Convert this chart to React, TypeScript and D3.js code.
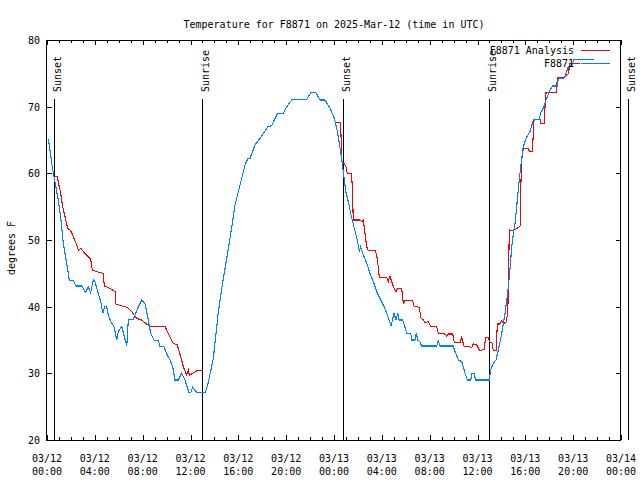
import React from "react";
import * as d3 from "d3";

// Observed station temperature (F8871): hours after 2025-03-12 00:00 UTC, °F
const obsHours = [0.11, 0.44, 0.59, 0.94, 1.17, 1.36, 1.65, 1.86, 2.2, 2.43, 2.9, 3.24, 3.45, 3.65, 3.87, 4.01, 4.29, 4.52, 4.66, 4.85, 4.99, 5.13, 5.33, 5.6, 5.83, 5.96, 6.25, 6.46, 6.67, 6.8, 7.22, 7.64, 7.92, 8.2, 8.39, 8.67, 8.95, 9.31, 9.45, 9.78, 10.01, 10.29, 10.51, 10.7, 10.98, 11.26, 11.54, 11.87, 12.02, 12.18, 12.52, 13.21, 13.44, 13.91, 14.33, 14.66, 15.03, 15.39, 15.72, 16.0, 16.28, 16.56, 16.78, 16.98, 17.39, 17.81, 18.09, 18.46, 18.79, 19.07, 19.29, 19.76, 20.05, 20.46, 20.74, 21.72, 22.08, 22.47, 22.83, 23.25, 23.67, 24.03, 24.23, 24.42, 24.64, 24.78, 24.98, 25.2, 25.42, 25.7, 25.95, 26.12, 26.23, 26.4, 26.74, 27.01, 27.29, 27.57, 27.9, 28.18, 28.41, 28.6, 28.77, 29.02, 29.19, 29.33, 29.44, 29.75, 29.88, 30.08, 30.42, 30.5, 30.77, 30.88, 31.0, 31.19, 31.33, 32.59, 32.72, 32.87, 33.98, 34.12, 34.4, 34.68, 34.81, 34.96, 35.15, 35.43, 35.54, 35.71, 35.85, 36.99, 37.1, 37.32, 37.55, 37.74, 38.03, 38.3, 38.49, 38.66, 38.78, 38.86, 39.0, 39.14, 39.41, 39.61, 39.83, 40.12, 40.39, 40.67, 41.17, 41.29, 41.56, 41.73, 42.06, 42.29, 42.67, 42.76, 43.23, 43.4, 43.6, 43.88, 44.07, 45.74];
const obsTemps = [65.15, 61.0, 59.5, 56.0, 53.0, 49.5, 46.5, 44.0, 43.9, 43.1, 43.1, 42.1, 43.0, 42.1, 44.0, 43.75, 42.0, 40.5, 39.0, 40.1, 40.0, 38.75, 37.75, 37.0, 35.0, 36.25, 37.0, 35.5, 34.1, 38.0, 38.1, 40.0, 41.0, 40.4, 38.75, 36.0, 35.0, 34.9, 34.0, 34.0, 32.9, 32.0, 31.0, 29.0, 29.0, 30.0, 29.0, 27.1, 27.1, 27.9, 27.1, 27.1, 28.25, 32.25, 39.25, 43.25, 47.25, 51.25, 55.25, 57.25, 59.25, 61.25, 62.15, 62.25, 64.25, 65.25, 66.0, 67.0, 67.15, 68.25, 69.0, 69.0, 70.0, 71.0, 71.1, 71.1, 72.15, 72.15, 71.0, 71.0, 69.75, 68.25, 66.75, 64.75, 62.25, 60.25, 57.25, 55.75, 53.75, 51.75, 50.0, 48.25, 49.0, 48.0, 46.5, 45.0, 43.75, 42.25, 41.0, 40.0, 39.0, 38.0, 37.1, 39.0, 38.0, 39.0, 38.0, 38.0, 37.25, 36.0, 36.0, 35.0, 35.0, 36.0, 35.0, 34.75, 34.1, 34.1, 34.9, 34.1, 34.1, 33.25, 32.0, 31.75, 31.0, 30.0, 29.0, 29.0, 30.0, 30.0, 29.0, 29.0, 30.5, 31.5, 32.0, 33.5, 36.0, 39.0, 41.5, 44.5, 47.0, 49.0, 51.0, 52.5, 57.5, 61.0, 64.0, 65.5, 66.25, 68.0, 68.1, 69.1, 70.0, 71.0, 72.5, 73.1, 73.1, 74.25, 74.25, 75.0, 76.0, 76.25, 77.1, 77.1];

// Analysis temperature (F8871 Analysis), two segments
const anaHours1 = [0.59, 0.86, 0.94, 1.15, 1.31, 1.51, 1.73, 1.98, 2.2, 2.43, 2.62, 2.82, 3.04, 3.32, 3.65, 3.79, 4.16, 4.71, 4.79, 5.27, 5.69, 5.77, 6.25, 6.72, 7.08, 7.5, 7.92, 8.34, 8.61, 9.87, 10.14, 10.56, 10.9, 11.18, 11.4, 11.68, 11.82, 11.9, 12.18, 12.52, 12.71, 12.99];
const anaTemps1 = [59.6, 59.5, 58.75, 57.0, 55.0, 53.5, 51.75, 51.4, 50.5, 49.5, 48.5, 48.75, 48.25, 47.75, 47.1, 45.5, 45.25, 45.0, 43.1, 42.75, 42.25, 40.4, 40.1, 39.9, 39.25, 38.25, 38.0, 37.4, 37.0, 37.0, 36.0, 34.5, 34.25, 32.5, 31.0, 29.75, 30.5, 29.75, 30.0, 30.35, 30.5, 30.4];
const anaHours2 = [24.08, 24.56, 24.64, 24.84, 25.0, 25.11, 25.48, 25.56, 25.61, 26.18, 26.32, 26.45, 26.59, 26.74, 26.87, 27.43, 27.57, 27.7, 27.79, 28.41, 28.54, 28.68, 28.83, 28.96, 29.19, 29.3, 29.66, 29.8, 29.94, 30.58, 30.69, 31.13, 31.28, 31.47, 31.61, 31.89, 32.11, 32.59, 32.72, 33.28, 33.43, 33.56, 33.93, 34.06, 34.54, 34.68, 34.87, 35.52, 35.65, 35.93, 36.15, 36.29, 36.44, 36.54, 36.69, 36.91, 36.99, 37.21, 37.32, 37.55, 37.66, 37.88, 38.03, 38.17, 38.37, 38.53, 38.58, 38.66, 38.94, 39.33, 39.56, 39.61, 39.7, 39.83, 40.25, 40.33, 40.58, 40.67, 40.73, 41.23, 41.31, 41.56, 41.65, 41.73, 42.62, 42.67, 43.23, 43.63, 43.68, 44.57];
const anaTemps2 = [67.6, 67.6, 61.75, 61.5, 61.0, 60.0, 59.9, 56.25, 53.0, 53.0, 52.75, 53.0, 51.0, 49.0, 48.4, 48.4, 47.75, 46.0, 44.4, 44.4, 43.75, 44.6, 43.75, 43.0, 42.25, 42.75, 42.75, 40.5, 40.9, 40.9, 40.1, 39.9, 38.25, 38.0, 37.6, 37.75, 37.0, 37.0, 36.0, 35.9, 35.6, 35.9, 35.9, 34.6, 34.6, 35.4, 34.1, 33.9, 34.4, 34.25, 33.5, 33.4, 33.6, 33.5, 35.4, 35.4, 34.75, 34.6, 33.4, 33.4, 37.4, 37.4, 37.9, 37.5, 37.6, 39.0, 43.0, 51.5, 51.4, 51.75, 52.1, 57.5, 62.0, 63.75, 63.75, 63.25, 63.25, 66.0, 68.1, 68.1, 67.5, 67.4, 70.0, 72.1, 72.1, 74.4, 74.4, 75.0, 76.5, 76.5];

// Sunrise / sunset markers (hours after 2025-03-12 00:00 UTC)
const sunLabels = ["Sunset", "Sunrise", "Sunset", "Sunrise", "Sunset"];
const sunHours = [0.61, 12.99, 24.78, 36.99, 48.6];

const yTicks = [20, 30, 40, 50, 60, 70, 80];
const titleText = "Temperature for F8871 on 2025-Mar-12 (time in UTC)";
const yLabel = "degrees F";
const seriesNames = ["F8871 Analysis", "F8871"];
const seriesColors = ["#ff0000", "#0080ff"];

const HOUR = 3600e3;
const T0 = Date.UTC(2025, 2, 12);
const toDate = (h: number) => new Date(T0 + h * HOUR);

export default function App() {
  const W = 640, H = 480;
  const L = 47, R = 621, TOP = 40, BOT = 440;
  const x = d3.scaleUtc().domain([toDate(0), toDate(48)]).range([L, R]);
  const y = d3.scaleLinear().domain([20, 80]).range([BOT, TOP]);
  const font = "'DejaVu Sans Mono', monospace";

  const line = d3
    .line<[number, number]>()
    .x((d) => x(toDate(d[0])))
    .y((d) => y(d[1]));
  const zip = (a: number[], b: number[]) => a.map((v, i) => [v, b[i]] as [number, number]);

  const majors = x.ticks(d3.utcHour.every(4)!);
  const minors = x.ticks(d3.utcHour.every(1)!);
  const fDate = d3.utcFormat("%m/%d");
  const fTime = d3.utcFormat("%H:%M");
  const px = (v: number) => Math.round(v) + 0.5;

  return (
    <svg width={W} height={H} style={{ position: "absolute", left: 0, top: 0, background: "#fff" }} fontFamily={font} fontSize={10}>
      <rect x={0} y={0} width={W} height={H} fill="#fff" />
      <text x={334} y={28} textAnchor="middle">{titleText}</text>
      {/* ticks */}
      <g stroke="#000" shapeRendering="crispEdges">
        {minors.map((d, i) => {
          const xx = px(x(d));
          return (
            <g key={"mn" + i}>
              <line x1={xx} x2={xx} y1={BOT} y2={BOT - 3} />
              <line x1={xx} x2={xx} y1={TOP} y2={TOP + 3} />
            </g>
          );
        })}
        {majors.map((d, i) => {
          const xx = px(x(d));
          return (
            <g key={"mj" + i}>
              <line x1={xx} x2={xx} y1={BOT} y2={BOT - 5} />
              <line x1={xx} x2={xx} y1={TOP} y2={TOP + 5} />
            </g>
          );
        })}
        {yTicks.map((t) => {
          const yy = px(y(t));
          return (
            <g key={"yt" + t}>
              <line x1={L} x2={L + 5} y1={yy} y2={yy} />
              <line x1={R} x2={R - 5} y1={yy} y2={yy} />
            </g>
          );
        })}
      </g>
      {/* tick labels */}
      {yTicks.map((t) => (
        <text key={"yl" + t} x={40} y={y(t) + 4} textAnchor="end">{t}</text>
      ))}
      {majors.map((d, i) => (
        <g key={"xl" + i}>
          <text x={x(d)} y={462} textAnchor="middle">{fDate(d)}</text>
          <text x={x(d)} y={475} textAnchor="middle">{fTime(d)}</text>
        </g>
      ))}
      <text transform={`translate(15,248) rotate(-90)`} textAnchor="middle">{yLabel}</text>
      {/* sun lines */}
      {sunHours.map((h, i) => {
        const xx = px(x(toDate(h)));
        return (
          <g key={"sun" + i}>
            <line x1={xx} x2={xx} y1={99} y2={BOT} stroke="#000" shapeRendering="crispEdges" />
            <text transform={`translate(${xx + 6},92) rotate(-90)`}>{sunLabels[i]}</text>
          </g>
        );
      })}
      {/* data */}
      <g fill="none" strokeWidth={1.1} shapeRendering="crispEdges">
        <path d={line(zip(anaHours1, anaTemps1)) || ""} stroke={seriesColors[0]} />
        <path d={line(zip(anaHours2, anaTemps2)) || ""} stroke={seriesColors[0]} />
        <path d={line(zip(obsHours, obsTemps)) || ""} stroke={seriesColors[1]} />
      </g>
      {/* frame */}
      <rect x={L - 0.5} y={TOP + 0.5} width={R - L} height={BOT - TOP} fill="none" stroke="#000" shapeRendering="crispEdges" />
      {/* legend */}
      {seriesNames.map((n, i) => {
        const ly = 50 + i * 12.5;
        return (
          <g key={"lg" + i}>
            <text x={574} y={ly + 4} textAnchor="end">{n}</text>
            <line x1={581} x2={610} y1={Math.round(ly) + 0.5} y2={Math.round(ly) + 0.5} stroke={seriesColors[i]} shapeRendering="crispEdges" />
          </g>
        );
      })}
    </svg>
  );
}
